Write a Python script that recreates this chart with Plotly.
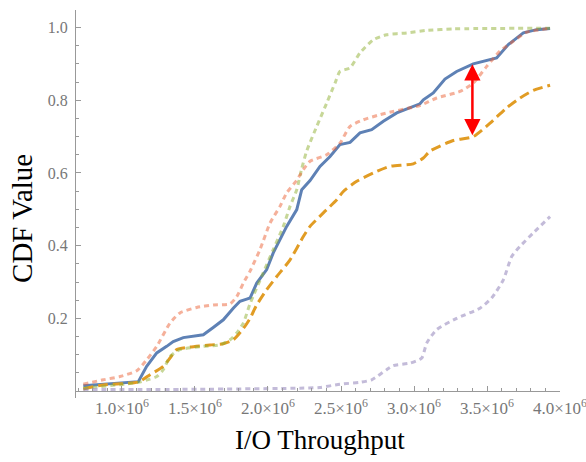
import numpy as np
import plotly.graph_objects as go

# ---- data (throughput in units of 1e6, CDF values) ----
blue_x = [0.735, 1.112, 1.169, 1.238, 1.306, 1.351, 1.42, 1.557, 1.625, 1.694, 1.762, 1.808, 1.854, 1.877,
          1.923, 1.991, 2.036, 2.082, 2.128, 2.197, 2.231, 2.288, 2.356, 2.425, 2.493, 2.562, 2.63, 2.71,
          2.79, 2.882, 2.973, 3.041, 3.064, 3.132, 3.212, 3.292, 3.406, 3.498, 3.566, 3.646, 3.749, 3.84, 3.932]
blue_y = [0.015, 0.026, 0.068, 0.105, 0.123, 0.136, 0.147, 0.155, 0.175, 0.196, 0.228, 0.247, 0.253, 0.256,
          0.297, 0.334, 0.38, 0.416, 0.453, 0.499, 0.554, 0.579, 0.618, 0.645, 0.678, 0.684, 0.71, 0.719,
          0.742, 0.765, 0.779, 0.79, 0.801, 0.82, 0.858, 0.879, 0.9, 0.909, 0.916, 0.953, 0.985, 0.994, 0.997]

orange_x = [0.735, 0.872, 1.112, 1.192, 1.283, 1.329, 1.375, 1.466, 1.603, 1.694, 1.762, 1.831, 1.877, 1.92,
            1.991, 2.06, 2.151, 2.242, 2.288, 2.379, 2.471, 2.516, 2.608, 2.745, 2.836, 2.995, 3.064, 3.11,
            3.269, 3.406, 3.521, 3.635, 3.726, 3.817, 3.932]
orange_y = [0.006, 0.017, 0.025, 0.045, 0.068, 0.091, 0.114, 0.121, 0.127, 0.13, 0.141, 0.172, 0.2, 0.235,
            0.279, 0.315, 0.361, 0.425, 0.453, 0.49, 0.526, 0.549, 0.577, 0.604, 0.618, 0.625, 0.641, 0.66,
            0.689, 0.70, 0.737, 0.779, 0.806, 0.827, 0.841]

green_x = [0.735, 1.112, 1.192, 1.238, 1.283, 1.329, 1.397, 1.557, 1.671, 1.74, 1.786, 1.831, 1.877, 1.967,
           2.036, 2.105, 2.151, 2.197, 2.231, 2.265, 2.334, 2.402, 2.459, 2.493, 2.562, 2.63, 2.721, 2.813,
           2.95, 3.087, 3.269, 3.932]
green_y = [0.008, 0.024, 0.033, 0.04, 0.059, 0.095, 0.114, 0.123, 0.127, 0.141, 0.16, 0.187, 0.24, 0.325,
           0.389, 0.453, 0.508, 0.554, 0.612, 0.66, 0.728, 0.792, 0.847, 0.879, 0.889, 0.93, 0.966, 0.98,
           0.985, 0.992, 0.996, 0.998]

salmon_x = [0.735, 0.872, 0.986, 1.101, 1.169, 1.238, 1.329, 1.397, 1.512, 1.625, 1.74, 1.786, 1.831, 1.877,
            1.945, 2.014, 2.082, 2.128, 2.197, 2.242, 2.288, 2.402, 2.493, 2.562, 2.653, 2.767, 2.858, 2.973,
            3.041, 3.155, 3.315, 3.406, 3.498, 3.589, 3.68, 3.772, 3.932]
salmon_y = [0.019, 0.031, 0.04, 0.056, 0.086, 0.123, 0.187, 0.215, 0.23, 0.237, 0.24, 0.26, 0.297, 0.33,
            0.389, 0.462, 0.508, 0.545, 0.58, 0.609, 0.632, 0.65, 0.682, 0.728, 0.746, 0.76, 0.769, 0.779,
            0.785, 0.806, 0.824, 0.847, 0.893, 0.935, 0.962, 0.987, 0.997]

purple_x = [0.735, 1.534, 2.219, 2.356, 2.493, 2.63, 2.71, 2.813, 2.858, 2.973, 3.053, 3.087, 3.155, 3.292,
            3.452, 3.532, 3.612, 3.669, 3.726, 3.817, 3.932]
purple_y = [0.004, 0.005, 0.008, 0.01, 0.019, 0.024, 0.031, 0.059, 0.07, 0.077, 0.091, 0.132, 0.169, 0.2,
            0.228, 0.256, 0.306, 0.37, 0.398, 0.435, 0.48]

arrow_x = 3.4  # 1e6

x_tick_vals = [1.0, 1.5, 2.0, 2.5, 3.0, 3.5, 4.0]
x_tick_text = ["1.0×10<sup>6</sup>", "1.5×10<sup>6</sup>", "2.0×10<sup>6</sup>", "2.5×10<sup>6</sup>",
               "3.0×10<sup>6</sup>", "3.5×10<sup>6</sup>", "4.0×10<sup>6</sup>"]
y_tick_vals = [0.2, 0.4, 0.6, 0.8, 1.0]
y_tick_text = ["0.2", "0.4", "0.6", "0.8", "1.0"]
x_title = "I/O Throughput"
y_title = "CDF Value"

SCALE = 1e6
X_RANGE = [0.685, 4.0]
Y_RANGE = [-0.019, 1.048]

def sx(v):
    return [a * SCALE for a in v]

fig = go.Figure()
fig.add_trace(go.Scatter(x=sx(blue_x), y=blue_y, mode="lines",
                         line=dict(color="#5e81b5", width=3)))
fig.add_trace(go.Scatter(x=sx(orange_x), y=orange_y, mode="lines", line_shape="spline",
                         line=dict(color="#e19c24", width=3, dash="10px,5px", smoothing=0.6)))
fig.add_trace(go.Scatter(x=sx(green_x), y=green_y, mode="lines", line_shape="spline",
                         line=dict(color="rgba(143,176,50,0.5)", width=3, dash="5px,4px", smoothing=0.6)))
fig.add_trace(go.Scatter(x=sx(salmon_x), y=salmon_y, mode="lines", line_shape="spline",
                         line=dict(color="rgba(235,98,53,0.5)", width=3, dash="5px,4px", smoothing=0.6)))
fig.add_trace(go.Scatter(x=sx(purple_x), y=purple_y, mode="lines", line_shape="spline",
                         line=dict(color="rgba(135,120,179,0.5)", width=3, dash="5px,4px", smoothing=0.6)))

top_y = float(np.interp(arrow_x, blue_x, blue_y))
bot_y = float(np.interp(arrow_x, orange_x, orange_y))
fig.add_annotation(x=arrow_x * SCALE, y=top_y, ax=arrow_x * SCALE, ay=bot_y,
                   xref="x", yref="y", axref="x", ayref="y", text="", showarrow=True,
                   arrowhead=2, startarrowhead=2, arrowside="end+start",
                   arrowsize=1.3, startarrowsize=1.3, arrowwidth=2.5, arrowcolor="#ff0000",
                   standoff=0, startstandoff=0)

serif = "Liberation Serif"
fig.add_annotation(text=x_title, xref="paper", yref="paper", x=0.504, y=-0.108,
                   xanchor="center", yanchor="middle", showarrow=False,
                   font=dict(size=27, color="black", family=serif))
fig.add_annotation(text=y_title, xref="paper", yref="paper", x=-0.1116, y=0.464,
                   xanchor="center", yanchor="middle", showarrow=False, textangle=-90,
                   font=dict(size=29, color="black", family=serif))

zero_pos = (0 - Y_RANGE[0]) / (Y_RANGE[1] - Y_RANGE[0])

fig.update_layout(
    width=586, height=462,
    margin=dict(l=76, r=26, t=10, b=64),
    plot_bgcolor="white", paper_bgcolor="white",
    showlegend=False,
    font=dict(family=serif),
    xaxis=dict(range=[X_RANGE[0] * SCALE, X_RANGE[1] * SCALE], anchor="free", position=zero_pos,
               automargin=False, ticklabeloverflow="allow",
               showgrid=False, zeroline=False, showline=True, linecolor="#999999", linewidth=1,
               tickmode="array", tickvals=sx(x_tick_vals), ticktext=x_tick_text,
               ticks="inside", ticklen=5, tickcolor="#999999",
               minor=dict(dtick=0.1 * SCALE, tick0=0, ticks="inside", ticklen=3, tickcolor="#999999"),
               tickfont=dict(size=17, color="#777777", family=serif), ticklabelstandoff=2),
    yaxis=dict(range=Y_RANGE, automargin=False,
               showgrid=False, zeroline=False, showline=True, linecolor="#999999", linewidth=1,
               tickmode="array", tickvals=y_tick_vals, ticktext=y_tick_text,
               ticks="inside", ticklen=5, tickcolor="#999999",
               minor=dict(dtick=0.05, tick0=0, ticks="inside", ticklen=3, tickcolor="#999999"),
               tickfont=dict(size=16, color="#777777", family=serif), ticklabelstandoff=4),
)

fig.write_html("out.html")
